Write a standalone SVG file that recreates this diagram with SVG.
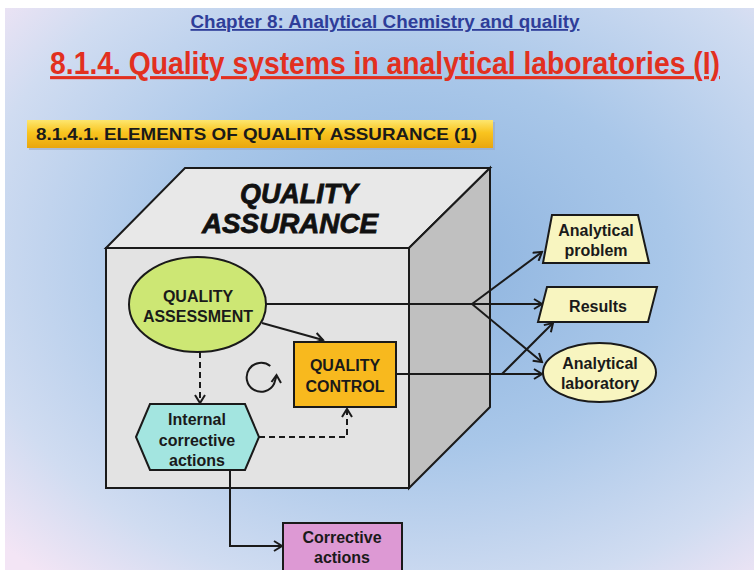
<svg xmlns="http://www.w3.org/2000/svg" width="754" height="570" viewBox="0 0 754 570">
<defs>
<radialGradient id="bg" cx="0.55" cy="0.45" r="0.75">
<stop offset="0" stop-color="#8bb2de"/>
<stop offset="0.45" stop-color="#a9c7e9"/>
<stop offset="0.8" stop-color="#d0dcf1"/>
<stop offset="1" stop-color="#f3e5f5"/>
</radialGradient>
<linearGradient id="ban" x1="0" y1="0" x2="0" y2="1">
<stop offset="0" stop-color="#fde66e"/>
<stop offset="0.45" stop-color="#f9c41f"/>
<stop offset="1" stop-color="#e9a60e"/>
</linearGradient>
<marker id="ah" markerWidth="12" markerHeight="12" refX="10" refY="6" orient="auto" markerUnits="userSpaceOnUse">
<path d="M2,1 L10,6 L2,11" fill="none" stroke="#1a1a1a" stroke-width="2"/>
</marker>
</defs>
<style>
.ln{fill:none;stroke:#1a1a1a;stroke-width:2}
.dash{stroke-dasharray:6,4}
.shp{stroke:#1a1a1a;stroke-width:2}
.t{font-family:"Liberation Sans",Arial,sans-serif;font-weight:bold;font-size:16px;fill:#1a1a1a;text-anchor:middle}
</style>
<rect x="0" y="0" width="754" height="570" fill="#ffffff"/>
<rect x="5" y="8" width="749" height="562" fill="url(#bg)"/>
<text x="385" y="28" font-family="'Liberation Sans',Arial,sans-serif" font-weight="bold" font-size="18" fill="#2e3d99" text-anchor="middle" text-decoration="underline" textLength="389" lengthAdjust="spacingAndGlyphs">Chapter 8: Analytical Chemistry and quality</text>
<text transform="translate(385,74) scale(0.913,1)" x="0" y="0" font-family="'Liberation Sans',Arial,sans-serif" font-weight="bold" font-size="31" fill="#e2301f" text-anchor="middle" text-decoration="underline">8.1.4. Quality systems in analytical laboratories (I)</text>
<g id="banner">
<rect x="29" y="122" width="466" height="28" fill="#9aa9c4" opacity="0.6"/>
<rect x="27" y="120" width="466" height="28" fill="url(#ban)"/>
<text x="36" y="140" font-family="'Liberation Sans',Arial,sans-serif" font-weight="bold" font-size="16.5" fill="#1a1a1a" textLength="441" lengthAdjust="spacingAndGlyphs">8.1.4.1. ELEMENTS OF QUALITY ASSURANCE (1)</text>
</g>
<g id="box">
<polygon points="106,248 185,168 490,168 409,248" fill="#e8e8e8" class="shp"/>
<polygon points="409,248 490,168 490,407 409,488" fill="#c0c0c0" class="shp"/>
<rect x="106" y="248" width="303" height="240" fill="#e3e3e3" class="shp"/>
<text x="299" y="203" font-family="'Liberation Sans',Arial,sans-serif" font-weight="bold" font-style="italic" font-size="27" fill="#111" text-anchor="middle" stroke="#111" stroke-width="0.8" textLength="118" lengthAdjust="spacingAndGlyphs">QUALITY</text>
<text x="290" y="233" font-family="'Liberation Sans',Arial,sans-serif" font-weight="bold" font-style="italic" font-size="27" fill="#111" text-anchor="middle" stroke="#111" stroke-width="0.8" textLength="176" lengthAdjust="spacingAndGlyphs">ASSURANCE</text>
</g>
<g id="connectors">
<polyline class="ln" points="266,304 472,304"/>
<line class="ln" x1="472" y1="304" x2="542" y2="252" marker-end="url(#ah)"/>
<line class="ln" x1="472" y1="304" x2="542" y2="304" marker-end="url(#ah)"/>
<line class="ln" x1="472" y1="304" x2="542" y2="362" marker-end="url(#ah)"/>
<line class="ln" x1="396" y1="374" x2="542" y2="374" marker-end="url(#ah)"/>
<line class="ln" x1="502" y1="374" x2="553" y2="323" marker-end="url(#ah)"/>
<line class="ln" x1="262" y1="323" x2="323" y2="340" marker-end="url(#ah)"/>
<line class="ln dash" x1="200" y1="352" x2="200" y2="403" marker-end="url(#ah)"/>
<polyline class="ln dash" points="259,437 347,437 347,409" marker-end="url(#ah)"/>
<polyline class="ln" points="230,470 230,546 282,546" marker-end="url(#ah)"/>
</g>
<g id="cycle">
<path class="ln" d="M270.3,366 A14.5,14.5 0 1 0 274,384 L276.5,376"/>
<polyline class="ln" points="271.5,382 276.5,375 281,383"/>
</g>
<g id="quality-assessment">
<ellipse cx="197.5" cy="304.5" rx="68.5" ry="47.5" fill="#cde774" class="shp"/>
<text class="t" x="198" y="302">QUALITY</text>
<text class="t" x="198" y="322">ASSESSMENT</text>
</g>
<g id="quality-control">
<rect x="294" y="342" width="102" height="65" fill="#f8b91e" class="shp"/>
<text class="t" x="345" y="371">QUALITY</text>
<text class="t" x="345" y="392">CONTROL</text>
</g>
<g id="internal-corrective">
<polygon points="136,437 150,404 245,404 259,437 245,470 150,470" fill="#a3e5e0" class="shp"/>
<text class="t" x="197" y="425">Internal</text>
<text class="t" x="197" y="446">corrective</text>
<text class="t" x="197" y="466">actions</text>
</g>
<g id="analytical-problem">
<polygon points="552,215 638,215 649,263 543,263" fill="#f8f5c0" class="shp"/>
<text class="t" x="596" y="236">Analytical</text>
<text class="t" x="596" y="256">problem</text>
</g>
<g id="results">
<polygon points="547,287 657,287 648,322 538,322" fill="#f8f5c0" class="shp"/>
<text class="t" x="598" y="312">Results</text>
</g>
<g id="analytical-laboratory">
<ellipse cx="599.5" cy="372.5" rx="56.5" ry="29.5" fill="#f8f5c0" class="shp"/>
<text class="t" x="600" y="369">Analytical</text>
<text class="t" x="600" y="389">laboratory</text>
</g>
<g id="corrective-actions">
<rect x="283" y="523" width="119" height="52" fill="#dd99d4" class="shp"/>
<text class="t" x="342" y="543">Corrective</text>
<text class="t" x="342" y="563">actions</text>
</g>
</svg>
